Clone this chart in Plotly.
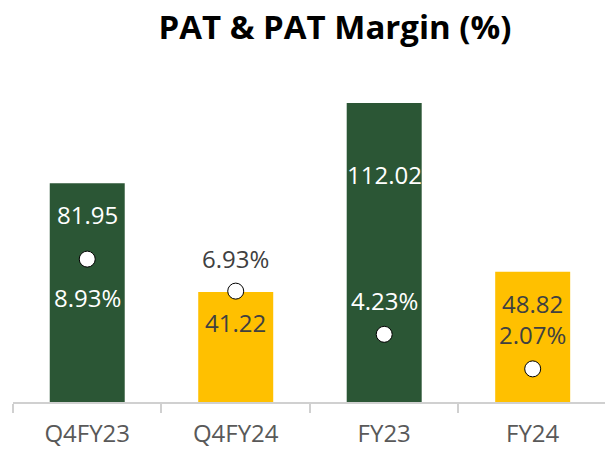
import plotly.graph_objects as go

categories = ["Q4FY23", "Q4FY24", "FY23", "FY24"]
pat = [81.95, 41.22, 112.02, 48.82]
margin = [8.93, 6.93, 4.23, 2.07]
pat_labels = ["81.95", "41.22", "112.02", "48.82"]
margin_labels = ["8.93%", "6.93%", "4.23%", "2.07%"]

GREEN = "#2B5635"
YELLOW = "#FFC000"
bar_colors = [GREEN, YELLOW, GREEN, YELLOW]
bar_text_colors = ["#FFFFFF", "#404040", "#FFFFFF", "#404040"]
bar_label_shift = [-31, -31, -72, -32]
margin_text_colors = ["#FFFFFF", "#404040", "#FFFFFF", "#404040"]
margin_label_shift = [-38, 33, 34, 34]

FONT = "Open Sans, Noto Sans, sans-serif"

W, H = 605, 449
fig = go.Figure()
fig.add_trace(go.Bar(x=categories, y=pat, marker=dict(color=bar_colors, line=dict(width=0)),
                     width=0.505, hoverinfo="skip"))
fig.add_trace(go.Scatter(x=categories, y=margin, yaxis="y2", mode="markers",
                         marker=dict(size=16, color="white", line=dict(color="black", width=1)),
                         hoverinfo="skip"))

annotations = []
for c, v, t, col, s in zip(categories, pat, pat_labels, bar_text_colors, bar_label_shift):
    annotations.append(dict(x=c, y=v, xref="x", yref="y", text=t, showarrow=False,
                            yshift=s, font=dict(size=24, color=col, family=FONT)))
for c, v, t, col, s in zip(categories, margin, margin_labels, margin_text_colors, margin_label_shift):
    annotations.append(dict(x=c, y=v, xref="x", yref="y2", text=t, showarrow=False,
                            yshift=s, font=dict(size=24, color=col, family=FONT)))

fig.update_layout(
    width=W, height=H,
    margin=dict(l=13, r=0, t=80, b=47),
    paper_bgcolor="white", plot_bgcolor="white",
    showlegend=False,
    title=dict(text="<b>PAT & PAT Margin (%)</b>", x=335 / W, xanchor="center",
               y=1 - 27 / H, yanchor="middle",
               font=dict(size=33, color="black", family=FONT)),
    xaxis=dict(type="category", range=[-0.5, 3.487], showline=True, linecolor="#D0D0D0",
               linewidth=1.5, ticks="outside", tickson="boundaries", ticklen=9,
               tickcolor="#D0D0D0", tickwidth=1.5, showgrid=False, ticklabelstandoff=9,
               tickfont=dict(size=24, color="#595959", family=FONT)),
    yaxis=dict(range=[0, 322 / 2.67], visible=False, showgrid=False),
    yaxis2=dict(range=[0, 322 / 16.0], overlaying="y", side="right", visible=False, showgrid=False),
    annotations=annotations,
)

fig.write_html("out.html", config={"displayModeBar": False},
               post_script="document.body.style.margin='0';document.body.style.overflow='hidden';")
